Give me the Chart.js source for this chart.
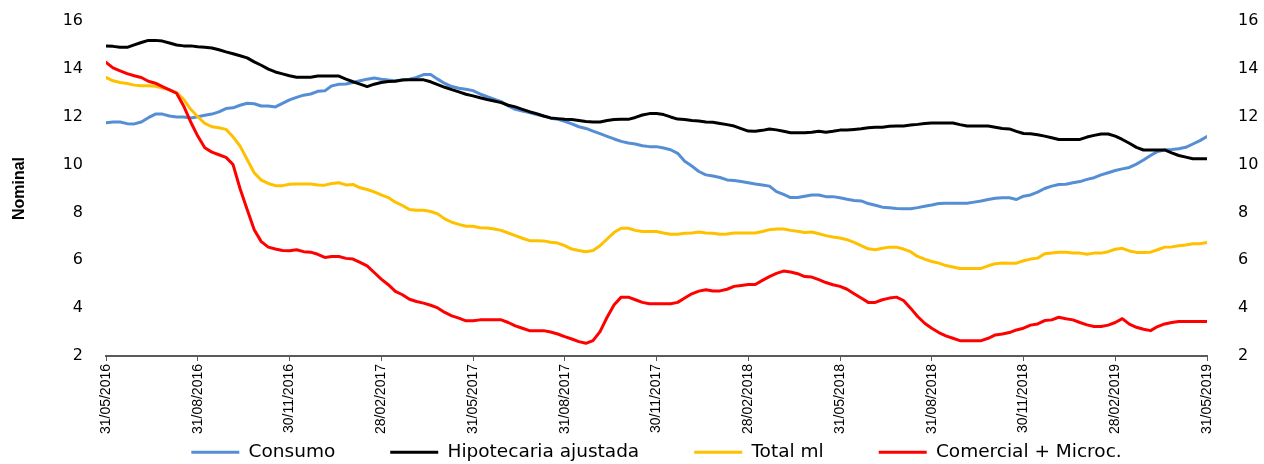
<!DOCTYPE html>
<html>
<head>
<meta charset="utf-8">
<title>Tasas nominales</title>
<script src="https://cdn.jsdelivr.net/npm/chart.js@4.4.1/dist/chart.umd.min.js"></script>
<style>
  html, body { margin: 0; padding: 0; background: #fff; }
  #wrap { width: 1264px; height: 464px; }
</style>
</head>
<body>
<div id="wrap"><canvas id="chart" width="1264" height="464"></canvas></div>
<script>
// Weekly observations, 31/05/2016 .. 31/05/2019 (157 weeks)
const tickLabels = ['31/05/2016', '31/08/2016', '30/11/2016', '28/02/2017', '31/05/2017', '31/08/2017',
    '30/11/2017', '28/02/2018', '31/05/2018', '31/08/2018', '30/11/2018', '28/02/2019', '31/05/2019'];

const consumo = [
    11.75, 11.78, 11.78, 11.71, 11.70, 11.78, 11.96, 12.11, 12.11, 12.03, 11.99, 11.99, 11.95, 12.00, 12.06, 12.11,
    12.20, 12.34, 12.37, 12.48, 12.56, 12.54, 12.45, 12.45, 12.41, 12.56, 12.70, 12.81, 12.90, 12.95, 13.06, 13.08,
    13.29, 13.36, 13.37, 13.43, 13.50, 13.57, 13.62, 13.57, 13.53, 13.50, 13.54, 13.57, 13.64, 13.76, 13.76, 13.57,
    13.39, 13.26, 13.19, 13.15, 13.09, 12.95, 12.84, 12.73, 12.63, 12.45, 12.31, 12.24, 12.17, 12.09, 12.03, 11.94,
    11.89, 11.81, 11.70, 11.58, 11.51, 11.40, 11.29, 11.18, 11.07, 10.97, 10.90, 10.86, 10.79, 10.75, 10.75, 10.69,
    10.62, 10.47, 10.14, 9.94, 9.71, 9.57, 9.52, 9.46, 9.36, 9.33, 9.29, 9.24, 9.19, 9.15, 9.10, 8.87,
    8.75, 8.62, 8.62, 8.68, 8.73, 8.73, 8.66, 8.66, 8.61, 8.55, 8.50, 8.48, 8.37, 8.30, 8.22, 8.20,
    8.16, 8.15, 8.15, 8.20, 8.26, 8.31, 8.37, 8.38, 8.38, 8.38, 8.38, 8.43, 8.48, 8.54, 8.59, 8.61,
    8.61, 8.54, 8.68, 8.73, 8.85, 9.00, 9.10, 9.17, 9.18, 9.24, 9.29, 9.38, 9.45, 9.57, 9.66, 9.75,
    9.82, 9.88, 10.02, 10.19, 10.38, 10.55, 10.61, 10.63, 10.66, 10.72, 10.86, 11.00, 11.17
];

const hipotecaria = [
    14.96, 14.94, 14.90, 14.90, 15.00, 15.10, 15.19, 15.19, 15.16, 15.08, 15.00, 14.96, 14.96, 14.92, 14.90, 14.87,
    14.80, 14.71, 14.63, 14.55, 14.46, 14.29, 14.15, 13.99, 13.87, 13.79, 13.71, 13.65, 13.65, 13.65, 13.70, 13.70,
    13.70, 13.70, 13.57, 13.46, 13.36, 13.26, 13.36, 13.43, 13.47, 13.48, 13.53, 13.54, 13.54, 13.54, 13.46, 13.34,
    13.23, 13.13, 13.04, 12.94, 12.87, 12.79, 12.72, 12.66, 12.59, 12.48, 12.41, 12.31, 12.21, 12.13, 12.03, 11.95,
    11.92, 11.89, 11.88, 11.84, 11.80, 11.78, 11.78, 11.84, 11.88, 11.89, 11.89, 11.97, 12.07, 12.13, 12.13, 12.09,
    11.99, 11.90, 11.88, 11.84, 11.82, 11.78, 11.77, 11.72, 11.67, 11.61, 11.50, 11.40, 11.39, 11.43, 11.49, 11.45,
    11.39, 11.33, 11.33, 11.33, 11.35, 11.39, 11.35, 11.39, 11.44, 11.44, 11.47, 11.50, 11.54, 11.56, 11.56, 11.60,
    11.61, 11.61, 11.65, 11.68, 11.72, 11.74, 11.74, 11.74, 11.74, 11.67, 11.61, 11.61, 11.61, 11.61, 11.56, 11.51,
    11.49, 11.39, 11.30, 11.29, 11.25, 11.19, 11.12, 11.05, 11.05, 11.05, 11.05, 11.15, 11.22, 11.28, 11.28, 11.19,
    11.05, 10.89, 10.72, 10.61, 10.61, 10.61, 10.61, 10.49, 10.38, 10.31, 10.24, 10.24, 10.24
];

const totalMl = [
    13.64, 13.50, 13.43, 13.39, 13.32, 13.29, 13.29, 13.27, 13.20, 13.12, 13.01, 12.73, 12.31, 12.00, 11.72, 11.58,
    11.54, 11.47, 11.16, 10.77, 10.21, 9.66, 9.35, 9.21, 9.12, 9.12, 9.18, 9.19, 9.19, 9.19, 9.15, 9.14,
    9.21, 9.24, 9.15, 9.17, 9.03, 8.96, 8.86, 8.73, 8.62, 8.43, 8.29, 8.12, 8.09, 8.09, 8.04, 7.94,
    7.73, 7.59, 7.50, 7.42, 7.42, 7.36, 7.35, 7.31, 7.25, 7.14, 7.03, 6.92, 6.82, 6.82, 6.81, 6.75,
    6.72, 6.61, 6.47, 6.41, 6.36, 6.41, 6.61, 6.89, 7.17, 7.34, 7.34, 7.25, 7.20, 7.20, 7.20, 7.14,
    7.09, 7.09, 7.13, 7.14, 7.18, 7.14, 7.13, 7.09, 7.10, 7.14, 7.14, 7.14, 7.14, 7.20, 7.28, 7.31,
    7.31, 7.25, 7.21, 7.16, 7.18, 7.11, 7.03, 6.97, 6.93, 6.86, 6.75, 6.61, 6.48, 6.44, 6.50, 6.55,
    6.55, 6.47, 6.36, 6.16, 6.05, 5.95, 5.88, 5.78, 5.72, 5.66, 5.66, 5.66, 5.66, 5.77, 5.86, 5.89,
    5.88, 5.88, 5.98, 6.05, 6.09, 6.27, 6.30, 6.34, 6.34, 6.30, 6.30, 6.25, 6.30, 6.30, 6.36, 6.46,
    6.50, 6.39, 6.33, 6.33, 6.34, 6.44, 6.55, 6.56, 6.61, 6.64, 6.69, 6.69, 6.74
];

const comercial = [
    14.27, 14.04, 13.92, 13.80, 13.71, 13.64, 13.48, 13.40, 13.26, 13.12, 12.98, 12.45, 11.78, 11.19, 10.70, 10.52,
    10.41, 10.30, 10.00, 8.99, 8.12, 7.28, 6.78, 6.55, 6.47, 6.41, 6.40, 6.44, 6.36, 6.34, 6.25, 6.12,
    6.16, 6.16, 6.08, 6.05, 5.91, 5.77, 5.49, 5.21, 4.98, 4.70, 4.56, 4.37, 4.28, 4.21, 4.12, 4.01,
    3.82, 3.68, 3.58, 3.47, 3.47, 3.51, 3.51, 3.51, 3.51, 3.40, 3.26, 3.16, 3.06, 3.06, 3.06, 3.00,
    2.92, 2.81, 2.71, 2.60, 2.53, 2.64, 3.02, 3.62, 4.14, 4.46, 4.46, 4.35, 4.24, 4.18, 4.18, 4.18,
    4.18, 4.24, 4.42, 4.60, 4.71, 4.77, 4.72, 4.72, 4.79, 4.91, 4.95, 4.99, 4.99, 5.16, 5.32, 5.45,
    5.55, 5.51, 5.44, 5.32, 5.30, 5.19, 5.07, 4.98, 4.91, 4.79, 4.60, 4.42, 4.24, 4.24, 4.35, 4.42,
    4.46, 4.32, 4.00, 3.65, 3.37, 3.16, 2.98, 2.84, 2.74, 2.64, 2.64, 2.64, 2.64, 2.74, 2.88, 2.92,
    2.98, 3.09, 3.16, 3.29, 3.34, 3.48, 3.51, 3.62, 3.56, 3.51, 3.40, 3.30, 3.23, 3.23, 3.29, 3.40,
    3.56, 3.33, 3.20, 3.12, 3.06, 3.23, 3.34, 3.40, 3.44, 3.44, 3.44, 3.44, 3.44
];

const weeksPerTick = 13;
const lastWeek = (tickLabels.length - 1) * weeksPerTick;

function toPoints(values) {
    return values.map((v, i) => ({ x: i, y: v }));
}

// legend: centred under the plot area; its wide item spacing (labels.padding)
// also pushes the text down, so only the top of its box is lifted
const legendUnderPlot = {
    id: 'legendUnderPlot',
    afterLayout(chart) {
        const area = chart.chartArea;
        const lg = chart.legend;
        const off = (area.left + area.right) / 2 - (lg.left + lg.right) / 2;
        lg.left += off;
        lg.right += off;
        lg.top -= lg.options.labels.padding - 3;
    }
};

const yTicks = {
    stepSize: 2,
    padding: 3,
    color: '#000',
    font: { family: 'DejaVu Sans', size: 16 }
};

function series(label, values, color, order) {
    return {
        label: label,
        data: toPoints(values),
        borderColor: color,
        backgroundColor: color,
        pointBorderWidth: 3,
        order: order
    };
}

new Chart(document.getElementById('chart'), {
    type: 'line',
    data: {
        datasets: [
            series('Consumo', consumo, '#558ED5', 4),
            series('Hipotecaria ajustada', hipotecaria, '#000000', 3),
            series('Total ml', totalMl, '#FFC000', 2),
            series('Comercial + Microc.', comercial, '#FF0000', 1)
        ]
    },
    options: {
        responsive: false,
        animation: false,
        elements: {
            line: { borderWidth: 3, tension: 0, borderCapStyle: 'round', borderJoinStyle: 'round' },
            point: { radius: 0 }
        },
        layout: { padding: { top: 21, bottom: 0, left: 0, right: 0 } },
        scales: {
            x: {
                type: 'linear',
                min: 0,
                max: lastWeek,
                afterFit: s => { s.height = 84; },
                grid: { drawOnChartArea: false, drawTicks: true, tickLength: 5, color: '#595959', lineWidth: 1 },
                border: { display: true, color: '#595959', width: 2 },
                ticks: {
                    stepSize: weeksPerTick,
                    autoSkip: false,
                    maxRotation: 90,
                    minRotation: 90,
                    padding: 3,
                    color: '#000',
                    font: { family: 'Liberation Sans', size: 14 },
                    callback: v => tickLabels[v / weeksPerTick] || ''
                }
            },
            y: {
                position: 'left',
                min: 2,
                max: 16,
                afterFit: s => { s.width = 106; },
                // hidden tick marks only hold the labels away from the plot
                grid: { display: false, drawTicks: true, tickLength: 20 },
                border: { display: false },
                ticks: yTicks,
                title: {
                    display: true,
                    text: 'Nominal',
                    color: '#000',
                    padding: { top: 10, bottom: 0 },
                    font: { family: 'Liberation Sans', size: 16, weight: 'bold' }
                }
            },
            y2: {
                position: 'right',
                min: 2,
                max: 16,
                afterFit: s => { s.width = 57; },
                grid: { display: false, drawTicks: true, tickLength: 28 },
                border: { display: false },
                ticks: yTicks
            }
        },
        plugins: {
            legend: {
                position: 'bottom',
                maxHeight: 24,
                labels: {
                    usePointStyle: true,
                    pointStyle: 'line',
                    pointStyleWidth: 48,
                    padding: 55,
                    color: '#000',
                    font: { family: 'DejaVu Sans', size: 18.5 },
                    sort: (a, b) => a.datasetIndex - b.datasetIndex
                }
            },
            tooltip: { enabled: false }
        }
    },
    plugins: [legendUnderPlot]
});
</script>
</body>
</html>
